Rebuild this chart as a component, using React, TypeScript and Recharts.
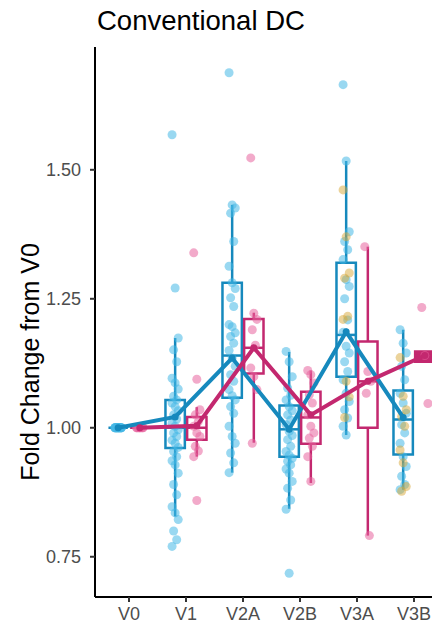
import React from 'react';
import { ScatterChart, Scatter, XAxis, YAxis, ReferenceArea, ReferenceLine } from 'recharts';

const categories = ['V0', 'V1', 'V2A', 'V2B', 'V3A', 'V3B'];
const yTicks = [0.75, 1.0, 1.25, 1.5];

// individual observations, group 1 (blue)
const blueV0 = [1, 1, 1, 1, 1, 1, 1, 1, 1, 1, 1, 1, 1, 1, 1, 1, 1, 1, 1, 1];
const blueV1 = [1.568, 1.271, 1.174, 1.151, 1.128, 1.096, 1.087, 1.075, 1.061, 1.054, 1.048, 1.041, 1.033, 1.025, 1.017, 1.009, 1.003, 0.996, 0.99, 0.983, 0.976, 0.97, 0.962, 0.954, 0.944, 0.936, 0.928, 0.912, 0.89, 0.87, 0.847, 0.835, 0.822, 0.8, 0.783, 0.77];
const blueV2A = [1.688, 1.432, 1.426, 1.416, 1.361, 1.313, 1.281, 1.27, 1.252, 1.235, 1.2, 1.196, 1.184, 1.177, 1.164, 1.15, 1.135, 1.119, 1.103, 1.09, 1.074, 1.062, 1.054, 1.041, 1.028, 1.003, 0.983, 0.97, 0.951, 0.932, 0.913];
const blueV2B = [1.148, 1.128, 1.099, 1.077, 1.063, 1.054, 1.041, 1.033, 1.025, 1.015, 1.006, 0.993, 0.985, 0.977, 0.964, 0.954, 0.947, 0.941, 0.935, 0.928, 0.92, 0.912, 0.896, 0.883, 0.86, 0.842, 0.718];
const blueV3A = [1.665, 1.517, 1.38, 1.361, 1.345, 1.326, 1.287, 1.274, 1.25, 1.209, 1.185, 1.158, 1.145, 1.128, 1.109, 1.093, 1.067, 1.051, 1.035, 1.019, 1.003, 0.986];
const blueV3B = [1.19, 1.164, 1.145, 1.119, 1.093, 1.067, 1.048, 1.028, 1.006, 0.99, 0.97, 0.944, 0.925, 0.906, 0.89, 0.88];

// individual observations, group 2 (magenta)
const magV0 = [1, 1, 1, 1, 1, 1, 1, 1];
const magV1 = [1.339, 1.094, 1.035, 1.025, 1.012, 1.003, 0.99, 0.983, 0.964, 0.955, 0.944, 0.859];
const magV2A = [1.523, 1.222, 1.21, 1.19, 1.16, 1.116, 1.099, 1.074, 0.97];
const magV2B = [1.111, 1.103, 1.087, 1.064, 1.048, 1.025, 1.003, 0.99, 0.98, 0.964, 0.944, 0.896];
const magV3A = [1.351, 1.109, 1.09, 1.067, 0.791];
const magV3B = [1.233, 1.14, 1.047];

// gold observations (overlaid on blue column)
const goldV3A = [1.461, 1.37, 1.3, 1.29, 1.216, 1.21, 1.09, 1.06, 1.02];
const goldV3B = [1.136, 1.061, 1.035, 1.022, 1.003, 0.957, 0.932, 0.886, 0.877];

// box statistics
const blueQ1 = [1, 0.961, 1.058, 0.944, 1.099, 0.948];
const blueMed = [1, 1.0, 1.14, 0.997, 1.18, 1.016];
const blueQ3 = [1, 1.054, 1.281, 1.043, 1.32, 1.072];
const blueLo = [1, 0.828, 0.913, 0.843, 0.986, 0.88];
const blueHi = [1, 1.174, 1.432, 1.147, 1.517, 1.19];
const blueMean = [1, 1.021, 1.135, 0.997, 1.186, 1.02];

const magQ1 = [1, 0.977, 1.105, 0.969, 1.0, 1.128];
const magMed = [1, 1.0, 1.155, 1.02, 1.09, 1.14];
const magQ3 = [1, 1.021, 1.211, 1.07, 1.167, 1.148];
const magLo = [1, 0.944, 0.971, 0.893, 0.791, 1.128];
const magHi = [1, 1.04, 1.223, 1.111, 1.351, 1.148];
const magMean = [1, 1.004, 1.155, 1.025, 1.09, 1.14];

const BLUE_LINE = '#1689BD';
const BLUE_PT = '#45B8E6';
const MAG_LINE = '#C3286F';
const MAG_PT = '#E8649E';
const GOLD_PT = '#D8A838';
const FONT = '"Liberation Sans", Arial, sans-serif';

const DODGE = 0.19;
const HALF = 0.17;

const jit = (j: number) => (((j * 7) % 5) - 2) * 0.027;

const buildPoints = (groups: number[][], offset: number, startIdx = 0) =>
  groups.flatMap((vals, i) => vals.map((v, j) => ({ x: startIdx + i + offset + jit(j), y: v })));

const bluePoints = buildPoints([blueV0, blueV1, blueV2A, blueV2B, blueV3A, blueV3B], -DODGE);
const magPoints = buildPoints([magV0, magV1, magV2A, magV2B, magV3A, magV3B], DODGE);
const goldPoints = buildPoints([goldV3A, goldV3B], -DODGE, 4);

const blueMeans = blueMean.map((m, i) => ({ x: i - DODGE, y: m }));
const magMeans = magMean.map((m, i) => ({ x: i + DODGE, y: m }));

const dot = (color: string, opacity: number, r = 4.5) => (props: any) => (
  <circle cx={props.cx} cy={props.cy} r={r} fill={color} fillOpacity={opacity} />
);

function boxes(
  q1: number[], med: number[], q3: number[], lo: number[], hi: number[],
  offset: number, color: string, key: string
) {
  const els: any[] = [];
  q1.forEach((_, i) => {
    const c = i + offset;
    els.push(
      <ReferenceLine key={`${key}-wl-${i}`} segment={[{ x: c, y: lo[i] }, { x: c, y: q1[i] }]} stroke={color} strokeWidth={2.5} />
    );
    els.push(
      <ReferenceLine key={`${key}-wh-${i}`} segment={[{ x: c, y: q3[i] }, { x: c, y: hi[i] }]} stroke={color} strokeWidth={2.5} />
    );
    if (q3[i] > q1[i]) {
      const narrow = q3[i] - q1[i] < 0.03;
      els.push(
        <ReferenceArea
          key={`${key}-b-${i}`}
          x1={c - HALF}
          x2={c + HALF}
          y1={q1[i]}
          y2={q3[i]}
          fill={narrow ? color : 'none'}
          fillOpacity={narrow ? 1 : 0}
          stroke={color}
          strokeWidth={2.5}
        />
      );
    }
    els.push(
      <ReferenceLine key={`${key}-m-${i}`} segment={[{ x: c - HALF, y: med[i] }, { x: c + HALF, y: med[i] }]} stroke={color} strokeWidth={2.5} />
    );
  });
  return els;
}

export default function App() {
  const W = 432;
  const H = 618;
  return (
    <div style={{ position: 'relative', width: W, height: H }}>
      <ScatterChart width={W} height={H} margin={{ top: 39, right: 0, bottom: 0, left: 0 }}>
        <XAxis
          type="number"
          dataKey="x"
          domain={[-0.596, 5.456]}
          allowDataOverflow
          ticks={[0, 1, 2, 3, 4, 5]}
          tickFormatter={(v: number) => categories[Math.round(v)]}
          height={29}
          tickSize={5}
          tickMargin={5}
          axisLine={{ stroke: '#000', strokeWidth: 2 }}
          tickLine={{ stroke: '#333', strokeWidth: 2 }}
          tick={{ fill: '#4D4D4D', fontSize: 18, fontFamily: FONT }}
        />
        <YAxis
          type="number"
          dataKey="y"
          domain={[0.672, 1.738]}
          allowDataOverflow
          ticks={yTicks}
          tickFormatter={(v: number) => v.toFixed(2)}
          width={87}
          tickSize={5}
          tickMargin={9}
          axisLine={{ stroke: '#000', strokeWidth: 2 }}
          tickLine={{ stroke: '#333', strokeWidth: 2 }}
          tick={{ fill: '#4D4D4D', fontSize: 18, fontFamily: FONT }}
        />
        <Scatter data={bluePoints} shape={dot(BLUE_PT, 0.55)} isAnimationActive={false} />
        <Scatter data={magPoints} shape={dot(MAG_PT, 0.55)} isAnimationActive={false} />
        <Scatter data={goldPoints} shape={dot(GOLD_PT, 0.5)} isAnimationActive={false} />
        {boxes(blueQ1, blueMed, blueQ3, blueLo, blueHi, -DODGE, BLUE_LINE, 'b')}
        {boxes(magQ1, magMed, magQ3, magLo, magHi, DODGE, MAG_LINE, 'm')}
        <Scatter
          data={blueMeans}
          line={{ stroke: BLUE_LINE, strokeWidth: 4 }}
          shape={dot(BLUE_LINE, 1, 3.5)}
          isAnimationActive={false}
        />
        <Scatter
          data={magMeans}
          line={{ stroke: MAG_LINE, strokeWidth: 4 }}
          shape={dot(MAG_LINE, 1, 3.5)}
          isAnimationActive={false}
        />
      </ScatterChart>
      <svg
        width={W}
        height={H + 8}
        style={{ position: 'absolute', left: 0, top: -8, pointerEvents: 'none' }}
      >
        <text x={89} y={30} fontSize={27.5} fontFamily={FONT} fill="#000">
          Conventional DC
        </text>
        <text
          x={22}
          y={362}
          fontSize={25}
          fontFamily={FONT}
          fill="#000"
          textAnchor="middle"
          dominantBaseline="central"
          transform="rotate(-90 22 362)"
        >
          Fold Change from V0
        </text>
      </svg>
    </div>
  );
}
